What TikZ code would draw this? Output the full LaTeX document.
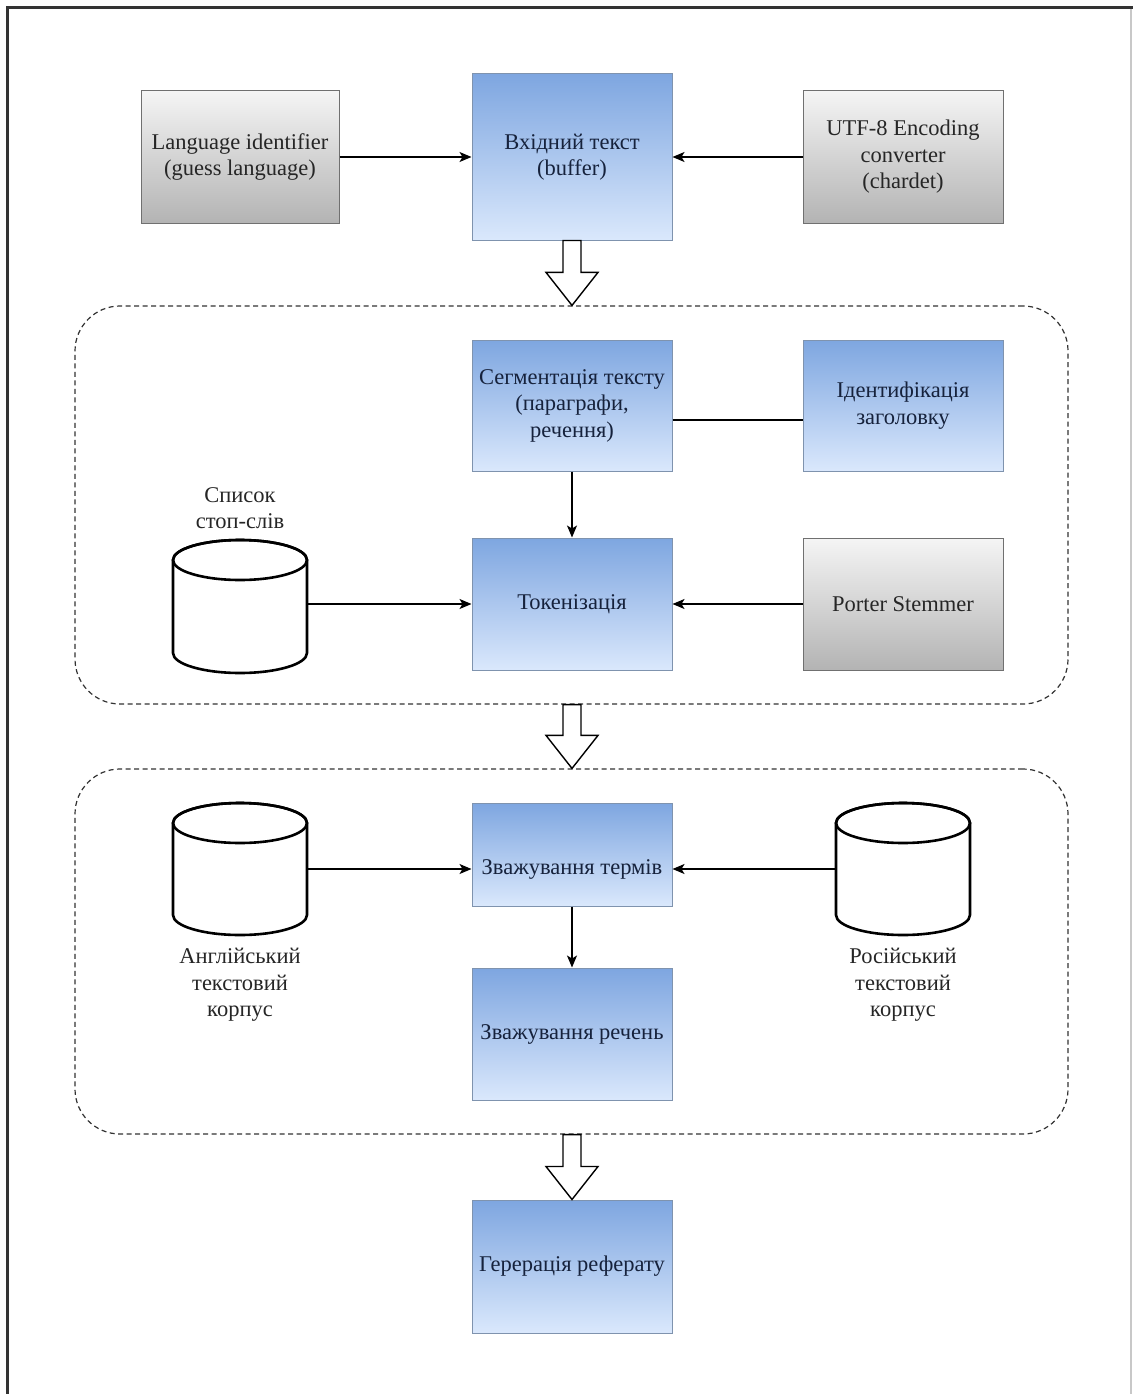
\documentclass[tikz,border=0pt]{standalone}
\usepackage{fontspec}
\setmainfont{Liberation Serif}
\usetikzlibrary{arrows.meta,calc}
\definecolor{bluetop}{HTML}{7EA6E0}
\definecolor{bluebot}{HTML}{DAE8FC}
\definecolor{bluebd}{HTML}{7F93AE}
\definecolor{bluetxt}{HTML}{16223C}
\definecolor{graytop}{HTML}{F5F5F5}
\definecolor{graybot}{HTML}{B3B3B3}
\definecolor{graybd}{HTML}{707070}
\definecolor{graytxt}{HTML}{262626}
\definecolor{framecol}{HTML}{333333}
\definecolor{framelight}{HTML}{C8C8C8}
\newcommand\mycyl[1]{%
  \draw[cylline,fill=white] ([yshift=-20pt]#1.north west) -- ([yshift=20pt]#1.south west)
    arc[start angle=180,end angle=360,x radius=67pt,y radius=20pt]
    -- ([yshift=-20pt]#1.north east)
    arc[start angle=0,end angle=180,x radius=67pt,y radius=20pt] -- cycle;
  \draw[cylline] ([yshift=-20pt]#1.north) ellipse[x radius=67pt,y radius=20pt];}
\newcommand\hollowarr[2]{%
  \draw[hollow] ($(#1)+(-9,0)$) -- ($(#2)+(-9,-33)$) -- ($(#2)+(-26,-33)$) -- (#2)
    -- ($(#2)+(26,-33)$) -- ($(#2)+(9,-33)$) -- ($(#1)+(9,0)$) -- cycle;}
\begin{document}
\begin{tikzpicture}[x=1pt,y=-1pt,
  font=\fontsize{22.5}{26.5}\selectfont,
  bluebox/.style={draw=bluebd, line width=1pt, top color=bluetop, bottom color=bluebot,
    minimum width=200pt, minimum height=132pt, align=center, text=bluetxt, inner sep=2pt},
  graybox/.style={draw=graybd, line width=1pt, top color=graytop, bottom color=graybot,
    minimum width=198pt, minimum height=132pt, align=center, text=graytxt, inner sep=2pt},
  cylnode/.style={minimum width=134pt, minimum height=132pt, inner sep=0pt, outer sep=0pt},
  lbl/.style={align=center, text=graytxt},
  conn/.style={line width=1.3pt, -{Stealth[length=12pt,width=10pt,inset=3pt]}},
  plainline/.style={line width=1.3pt},
  cylline/.style={line width=2.6pt},
  hollow/.style={draw, line width=1.4pt, fill=white, line join=miter},
  group/.style={draw=framecol, dash pattern=on 5pt off 3.5pt, line width=1.2pt,
    rounded corners=45pt, inner sep=0pt}]
\useasboundingbox (0,0) rectangle (1133,1394);
\fill[white] (0,0) rectangle (1133,1394);
% frame
\draw[framelight, line width=1.5pt] (1131,8) -- (1131,1394);
\draw[framecol, line width=3pt] (7,1394) -- (7,8) -- (1133,8);
% groups
\node[group, minimum width=993pt, minimum height=398pt] (grp1) at (571.5,505) {};
\node[group, minimum width=993pt, minimum height=365pt] (grp2) at (571.5,951.5) {};
% top row
\node[graybox] (lang) at (240,157) {Language identifier\\(guess language)};
\node[bluebox, minimum height=166pt] (input) at (572,157) {Вхідний текст\\(buffer)};
\node[graybox, minimum width=200pt] (utf) at (903,157) {UTF-8 Encoding\\converter\\(chardet)};
% group 1
\node[bluebox, minimum height=131pt] (seg) at (572,405.5) {Сегментація тексту\\(параграфи,\\речення)};
\node[bluebox, minimum height=131pt] (ident) at (903,405.5) {Ідентифікація\\заголовку};
\node[bluebox] (tok) at (572,604) {Токенізація};
\node[graybox, minimum width=200pt] (porter) at (903,604) {Porter Stemmer};
\node[cylnode, minimum height=133pt] (stop) at (240,606.5) {};
\mycyl{stop}
\node[lbl] (stoplbl) at (240,508) {Список\\стоп-слів};
% group 2
\node[bluebox, minimum height=103pt] (terms) at (572,854.5) {};
\node[text=bluetxt] (termstxt) at (572,869) {Зважування термів};
\node[bluebox] (sent) at (572,1034) {Зважування речень};
\node[cylnode] (eng) at (240,869) {};
\mycyl{eng}
\node[cylnode] (rus) at (903,869) {};
\mycyl{rus}
\node[lbl] (englbl) at (240,985) {Англійський\\текстовий\\корпус};
\node[lbl] (ruslbl) at (903,985) {Російський\\текстовий\\корпус};
% final
\node[bluebox, minimum height=133pt] (gen) at (572,1266.5) {Герерація реферату};
% connectors
\draw[conn] (lang.east) -- (input.west);
\draw[conn] (utf.west) -- (input.east);
\draw[plainline] ([yshift=-14.5pt]seg.east) -- ([yshift=-14.5pt]ident.west);
\draw[conn] (seg.south) -- (tok.north);
\draw[conn] (stop.east |- tok.west) -- (tok.west);
\draw[conn] (porter.west) -- (tok.east);
\draw[conn] (eng.east) -- (eng.east -| terms.west);
\draw[conn] (rus.west) -- (rus.west -| terms.east);
\draw[conn] (terms.south) -- (sent.north);
% hollow arrows
\coordinate (h1a) at (input.south);
\coordinate (h1b) at (input.south |- grp1.north);
\hollowarr{h1a}{h1b}
\coordinate (h2a) at (tok.south |- grp1.south);
\coordinate (h2b) at (tok.south |- grp2.north);
\hollowarr{h2a}{h2b}
\coordinate (h3a) at (sent.south |- grp2.south);
\coordinate (h3b) at (gen.north);
\hollowarr{h3a}{h3b}
\end{tikzpicture}
\end{document}
